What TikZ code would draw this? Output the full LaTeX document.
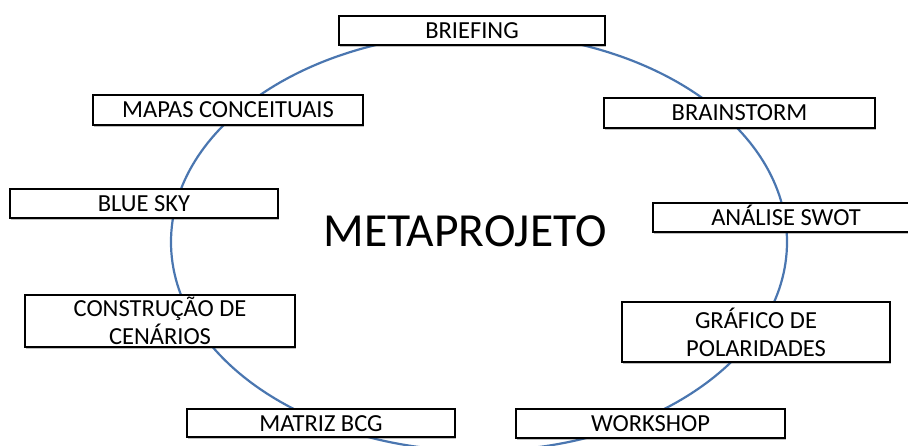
\documentclass[tikz,border=0pt]{standalone}
\usepackage{fontspec}
\setmainfont{Carlito}
\usetikzlibrary{shadows}
\definecolor{ringblue}{RGB}{74,118,176}
\begin{document}
\begin{tikzpicture}[x=1pt,y=-1pt,
  box/.style={draw=black, line width=2.4pt, fill=white, inner sep=0pt,
    font=\fontsize{24.5}{28}\selectfont,
    drop shadow={shadow xshift=1.2pt, shadow yshift=-1.8pt, opacity=0.25, fill=black}},
  onebox/.style={box, text height=16pt, text depth=0pt},
  twobox/.style={box, align=center}
]
\useasboundingbox (0,0) rectangle (908,446);
\clip (0,0) rectangle (908,446);
\draw[ringblue, line width=2.2pt] (479,242) ellipse [x radius=308, y radius=209];

\node[onebox, minimum width=266pt, minimum height=29pt] (brief) at (472,30.5) {BRIEFING};
\node[onebox, minimum width=270pt, minimum height=30pt] (mapas) at (228,110) {MAPAS CONCEITUAIS};
\node[onebox, minimum width=268pt, minimum height=29pt] (blue) at (144,203.5) {BLUE SKY};
\node[twobox, minimum width=270pt, minimum height=52pt] (cons) at (160,321) {CONSTRUÇÃO DE\\CENÁRIOS};
\node[onebox, minimum width=268pt, minimum height=28pt] (bcg) at (321,423) {MATRIZ BCG};
\node[onebox, minimum width=271pt, minimum height=30pt] (brain) at (739.5,113) {BRAINSTORM};
\node[onebox, minimum width=266pt, minimum height=29pt] (swot) at (786,217.5) {ANÁLISE SWOT};
\node[twobox, minimum width=268pt, minimum height=60pt] (graf) at (756,332) {GRÁFICO DE\\POLARIDADES};
\node[onebox, minimum width=269pt, minimum height=29pt] (work) at (650.5,423.5) {WORKSHOP};

\node[font=\fontsize{47.5}{52}\selectfont, anchor=base, inner sep=0pt] (meta) at (465,247) {METAPROJETO};
\end{tikzpicture}
\end{document}
